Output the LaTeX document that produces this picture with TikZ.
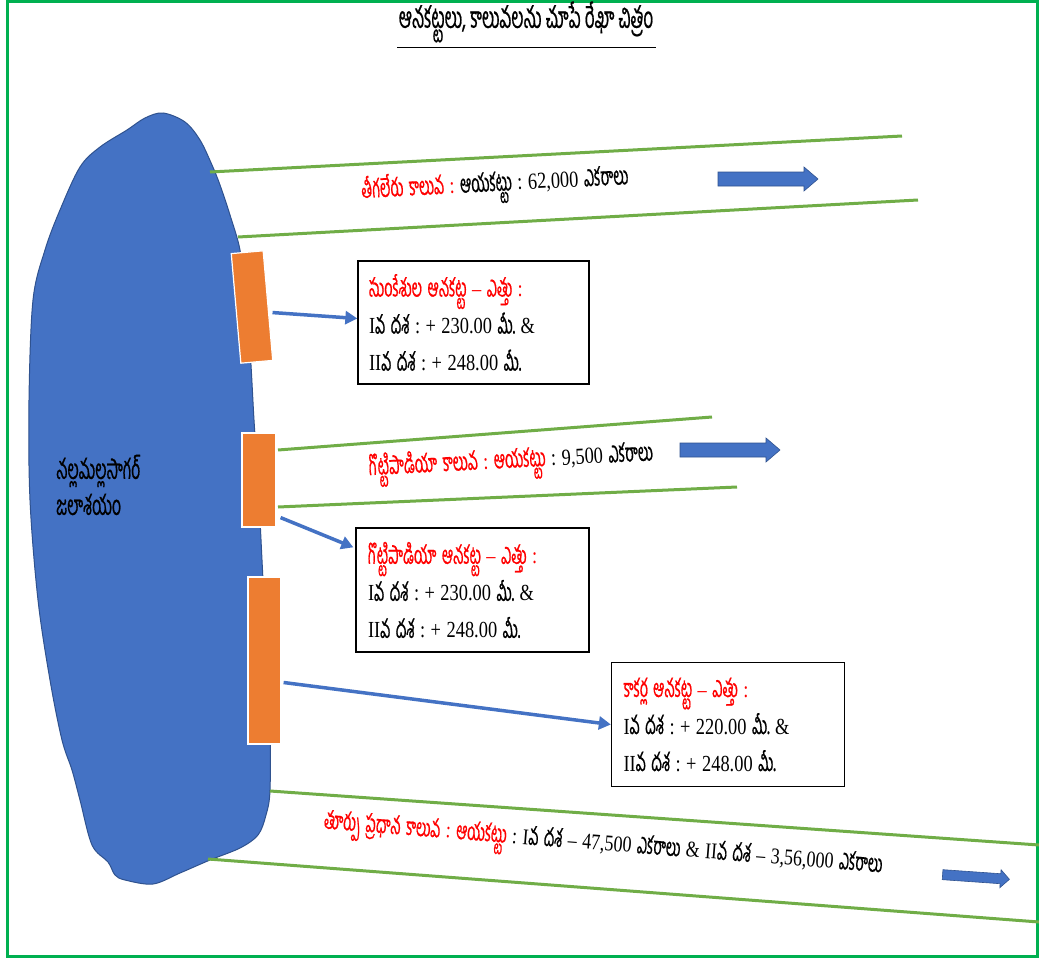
\documentclass[tikz,border=0pt]{standalone}
\usepackage{fontspec}
\setmainfont{Liberation Serif}[FakeStretch=0.8]
\newfontfamily\te[Script=Telugu,Scale=1.1,FakeStretch=0.57,FakeBold=0.6]{Hind Guntur}
\usetikzlibrary{arrows.meta,calc}
\definecolor{resblue}{HTML}{4472C4}
\definecolor{resline}{HTML}{2F528F}
\definecolor{dam}{HTML}{ED7D31}
\definecolor{canal}{HTML}{70AD47}
\definecolor{frame}{HTML}{00B050}
\definecolor{tred}{HTML}{FF0000}
\newcommand\tightsp{\spaceskip=5.5pt\xspaceskip=5.5pt\relax}
\newcommand\blockarr[7]{%
  \begin{scope}[shift={(#1,#2)},rotate=#4]
    \filldraw[barrow] (-#3/2,-#5) -- (#3/2-#7,-#5) -- (#3/2-#7,-#6) -- (#3/2,0)
      -- (#3/2-#7,#6) -- (#3/2-#7,#5) -- (-#3/2,#5) -- cycle;
  \end{scope}}
\begin{document}
\begin{tikzpicture}[x=1pt,y=-1pt,
  canalline/.style={canal,line width=3pt},
  damblock/.style={fill=dam,draw=white,line width=1.2pt,inner sep=0pt,minimum width=32pt},
  infobox/.style={draw=black,line width=1.3pt,fill=white,minimum width=231pt,minimum height=123pt,
     text width=209pt,inner xsep=11pt,align=left,font=\fontsize{23}{37}\selectfont},
  canallabel/.style={font=\fontsize{23}{26}\selectfont,inner sep=0pt},
  conn/.style={resblue,line width=3.5pt,-{Triangle[length=12pt,width=13pt]}},
  barrow/.style={fill=resblue,draw=resline,line width=0.6pt}]
\useasboundingbox (0,0) rectangle (1039,958);
\fill[white] (0,0) rectangle (1039,958);
\draw[frame,line width=3pt] (7,2) rectangle (1037.5,956);

% title
\node[font=\te\fontsize{27}{30}\selectfont,inner sep=0pt] (title) at (526,22) {ఆనకట్టలు, కాలువలను చూపే రేఖా చిత్రం};
\draw[line width=1pt] (397,48) -- (656,48);

% reservoir
\filldraw[fill=resblue,draw=resline,line width=1pt] plot[smooth cycle,tension=0.55] coordinates {
 (163,113) (185,122) (200,140) (212,165) (220,185) (230,215) (240,250) (244,290) (250,350)
 (254,420) (258,480) (262,560) (266,640) (270,720) (270,790) (266,815) (258,835) (240,848)
 (210,860) (180,873) (153,884) (125,880) (115,875) (108,862) (92,845) (80,800) (72,770)
 (62,740) (50,680) (38,600) (30,500) (29,400) (33,300) (45,250) (60,210) (80,167) (100,147)
 (127,130) (145,118)};
\node[font=\te\fontsize{25}{36}\selectfont,align=left,anchor=west,inner sep=0pt] (reslabel) at (56,485) {నల్లమల్లసాగర్\\జలాశయం};

% canals
\draw[canalline] (210,172) -- (902,136);
\draw[canalline] (238,237) -- (918,200);
\draw[canalline] (278,450) -- (712,417);
\draw[canalline] (278,507) -- (737,487);
\draw[canalline] (270,791) -- (1039,845);
\draw[canalline] (208,859) -- (1039,922);

% dams
\node[damblock,minimum height=110pt,rotate=5] (sunk) at (252,307) {};
\node[damblock,minimum width=34pt,minimum height=94pt] (gott) at (259,480) {};
\node[damblock,minimum width=33pt,minimum height=167pt] (kak) at (264.5,660.5) {};

% boxes
\node[infobox] (box1) at (473.5,322.5) {\tightsp{\color{tred}{\te సుంకేశుల ఆనకట్ట} – {\te ఎత్తు} :}\\
 I{\te వ దశ} : + 230.00 {\te మీ.} \&\\ II{\te వ దశ} : + 248.00 {\te మీ.}};
\node[infobox,minimum width=233pt,inner xsep=12pt,minimum height=124pt] (box2) at (472.5,590) {\tightsp{\color{tred}{\te గొట్టిపాడియా ఆనకట్ట} – {\te ఎత్తు} :}\\
 I{\te వ దశ} : + 230.00 {\te మీ.} \&\\ II{\te వ దశ} : + 248.00 {\te మీ.}};
\node[infobox,minimum width=233pt,inner xsep=12pt,minimum height=124pt] (box3) at (728,724.5) {\tightsp{\color{tred}{\te కాకర్ల ఆనకట్ట} – {\te ఎత్తు} :}\\
 I{\te వ దశ} : + 220.00 {\te మీ.} \&\\ II{\te వ దశ} : + 248.00 {\te మీ.}};

% connectors
\draw[conn] ($(sunk.east)+(4,7)$) -- ($(box1.west)+(0,-4)$);
\draw[conn] ($(gott.south east)+(4,-10)$) -- ($(box2.north west)+(-2,20)$);
\draw[conn] ($(kak.east)+(2,22)$) -- (box3.west);

% canal labels
\node[canallabel,rotate=3] (tigl) at (495,186) {\tightsp{\color{tred}{\te తీగలేరు కాలువ} :} {\te ఆయకట్టు} : 62,000 {\te ఎకరాలు}};
\node[canallabel,rotate=3] (gotl) at (511,463) {\tightsp{\color{tred}{\te గొట్టిపాడియా కాలువ} : {\te ఆయకట్టు}} : 9,500 {\te ఎకరాలు}};
\node[canallabel,font=\fontsize{22.5}{26}\selectfont,rotate=-4.5] (eastl) at (603,847) {\tightsp{\color{tred}{\te తూర్పు ప్రధాన కాలువ} : {\te ఆయకట్టు}} : I{\te వ దశ} – 47,500 {\te ఎకరాలు} \& II{\te వ దశ} – 3,56,000 {\te ఎకరాలు}};

% flow arrows
\blockarr{768}{179}{100}{0}{7}{12}{14}
\blockarr{730}{450}{100}{0}{7}{12}{14}
\blockarr{976}{877}{67}{-4}{5}{9}{9}
\end{tikzpicture}
\end{document}
